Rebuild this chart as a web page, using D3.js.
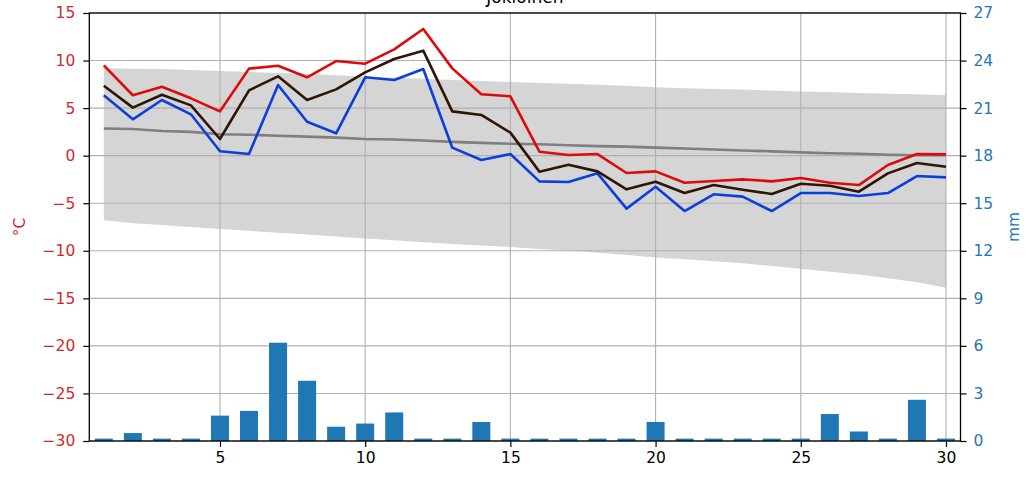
<!DOCTYPE html>
<html>
<head>
<meta charset="utf-8">
<script src="https://cdn.jsdelivr.net/npm/d3@7"></script>
<style>
  html, body { margin: 0; padding: 0; background: #fff; }
  svg { display: block; font-family: "DejaVu Sans", sans-serif; }
</style>
</head>
<body>
<svg id="chart" width="1034" height="484"></svg>
<script>
const title = "Jokioinen";
const days = d3.range(1, 31);
const tMax = [9.5, 6.35, 7.25, 6.03, 4.66, 9.15, 9.46, 8.24, 9.95, 9.67, 11.18, 13.32, 9.18, 6.45, 6.24,
  0.42, 0.07, 0.17, -1.82, -1.65, -2.84, -2.66, -2.49, -2.7, -2.35, -2.84, -3.09, -0.98, 0.17, 0.14];
const tMean = [7.36, 5.05, 6.41, 5.29, 1.75, 6.87, 8.34, 5.85, 6.97, 8.76, 10.16, 11.04, 4.66, 4.28, 2.42,
  -1.68, -0.95, -1.65, -3.54, -2.74, -3.93, -3.09, -3.58, -4.03, -2.95, -3.16, -3.79, -1.86, -0.77, -1.16];
const tMin = [6.35, 3.82, 5.85, 4.35, 0.46, 0.17, 7.43, 3.57, 2.35, 8.24, 7.96, 9.11, 0.84, -0.46, 0.17,
  -2.7, -2.77, -1.86, -5.57, -3.26, -5.82, -4.06, -4.31, -5.82, -3.93, -3.93, -4.24, -3.93, -2.14, -2.28];
const climMean = [2.85, 2.8, 2.6, 2.5, 2.25, 2.2, 2.1, 2.0, 1.9, 1.75, 1.7, 1.6, 1.45, 1.35, 1.25,
  1.2, 1.1, 1.0, 0.95, 0.85, 0.75, 0.65, 0.55, 0.45, 0.35, 0.25, 0.2, 0.1, 0.05, 0.05];
const climHigh = [9.2, 9.15, 9.1, 9.0, 8.9, 8.8, 8.7, 8.6, 8.45, 8.3, 8.2, 8.1, 7.95, 7.85, 7.75,
  7.65, 7.55, 7.45, 7.35, 7.2, 7.1, 7.0, 6.95, 6.85, 6.75, 6.7, 6.6, 6.5, 6.45, 6.35];
const climLow = [-6.8, -7.1, -7.3, -7.5, -7.7, -7.9, -8.1, -8.3, -8.5, -8.7, -8.9, -9.1, -9.3, -9.45, -9.6,
  -9.8, -10.0, -10.2, -10.45, -10.7, -10.9, -11.1, -11.3, -11.6, -11.9, -12.2, -12.5, -12.9, -13.3, -13.9];
const precip = [0.15, 0.5, 0.15, 0.15, 1.6, 1.9, 6.2, 3.8, 0.9, 1.1, 1.8, 0.15, 0.15, 1.2, 0.15,
  0.15, 0.15, 0.15, 0.15, 1.2, 0.15, 0.15, 0.15, 0.15, 0.15, 1.7, 0.6, 0.15, 2.6, 0.15];
const xTicks = [5, 10, 15, 20, 25, 30];
const tTicks = [15, 10, 5, 0, -5, -10, -15, -20, -25, -30];
const pTicks = [0, 3, 6, 9, 12, 15, 18, 21, 24, 27];

const svg = d3.select("#chart");
const L = 89.3, R = 960.5, T = 13, B = 441;
const x = d3.scaleLinear().domain([0.5, 30.5]).range([L, R]);
const y = d3.scaleLinear().domain([-30, 15]).range([B, T]);
const y2 = d3.scaleLinear().domain([0, 27]).range([B, T]);

const tempColor = "#d62728", precColor = "#1f77b4";

// climate band
svg.append("path")
  .datum(days.map((d, i) => [d, climLow[i], climHigh[i]]))
  .attr("fill", "#d5d5d5")
  .attr("d", d3.area().x(d => x(d[0])).y0(d => y(d[1])).y1(d => y(d[2])));

// grid
const grid = svg.append("g").attr("stroke", "#b0b0b0").attr("stroke-width", 1.1);
grid.selectAll("line.h").data(tTicks).join("line")
  .attr("x1", L).attr("x2", R).attr("y1", d => y(d)).attr("y2", d => y(d));
grid.selectAll("line.v").data(xTicks).join("line")
  .attr("y1", T).attr("y2", B).attr("x1", d => x(d)).attr("x2", d => x(d));

// lines
const line = d3.line().x((d, i) => x(days[i])).y(d => y(d));
svg.append("path").datum(climMean).attr("fill", "none").attr("stroke", "#7f7f7f").attr("stroke-width", 2.6).attr("d", line);
svg.append("path").datum(tMax).attr("fill", "none").attr("stroke", "#dd0a0a").attr("stroke-width", 2.6).attr("stroke-linejoin", "round").attr("d", line);
svg.append("path").datum(tMin).attr("fill", "none").attr("stroke", "#0a3fdc").attr("stroke-width", 2.6).attr("stroke-linejoin", "round").attr("d", line);
svg.append("path").datum(tMean).attr("fill", "none").attr("stroke", "#2e1505").attr("stroke-width", 2.6).attr("stroke-linejoin", "round").attr("d", line);

// bars
const bw = 0.62;
svg.append("g").selectAll("rect").data(precip).join("rect")
  .attr("x", (d, i) => x(days[i] - bw / 2))
  .attr("width", (d, i) => x(days[i] + bw / 2) - x(days[i] - bw / 2))
  .attr("y", d => y2(d))
  .attr("height", d => y2(0) - y2(d))
  .attr("fill", precColor);

// frame
svg.append("rect").attr("x", L).attr("y", T).attr("width", R - L).attr("height", B - T)
  .attr("fill", "none").attr("stroke", "#000").attr("stroke-width", 1.3);

// axes
const fs = "15.5px";
const ax = svg.append("g").attr("transform", `translate(0,${B})`)
  .call(d3.axisBottom(x).tickValues(xTicks).tickFormat(d3.format("d")).tickSizeOuter(0).tickSize(6).tickPadding(5));
ax.select(".domain").remove();
ax.selectAll("text").attr("font-size", fs).attr("fill", "#000").attr("font-family", "DejaVu Sans");
ax.selectAll("line").attr("stroke-width", 1.2);

const ayl = svg.append("g").attr("transform", `translate(${L},0)`)
  .call(d3.axisLeft(y).tickValues(tTicks).tickFormat(d => d < 0 ? "\u2212" + Math.abs(d) : d).tickSizeOuter(0).tickSize(6).tickPadding(8));
ayl.select(".domain").remove();
ayl.selectAll("text").attr("font-size", fs).attr("fill", tempColor).attr("font-family", "DejaVu Sans");
ayl.selectAll("line").attr("stroke-width", 1.2);

const ayr = svg.append("g").attr("transform", `translate(${R},0)`)
  .call(d3.axisRight(y2).tickValues(pTicks).tickFormat(d3.format("d")).tickSizeOuter(0).tickSize(6).tickPadding(7));
ayr.select(".domain").remove();
ayr.selectAll("text").attr("font-size", fs).attr("fill", precColor).attr("font-family", "DejaVu Sans");
ayr.selectAll("line").attr("stroke-width", 1.2);

// labels
svg.append("text").attr("transform", "translate(25,227) rotate(-90)").attr("text-anchor", "middle")
  .attr("font-size", fs).attr("fill", tempColor).text("°C");
svg.append("text").attr("transform", "translate(1019,227) rotate(-90)").attr("text-anchor", "middle")
  .attr("font-size", fs).attr("fill", precColor).text("mm");
svg.append("text").attr("x", (L + R) / 2).attr("y", 3).attr("text-anchor", "middle")
  .attr("font-size", "17px").attr("fill", "#000").text(title);
</script>
</body>
</html>
